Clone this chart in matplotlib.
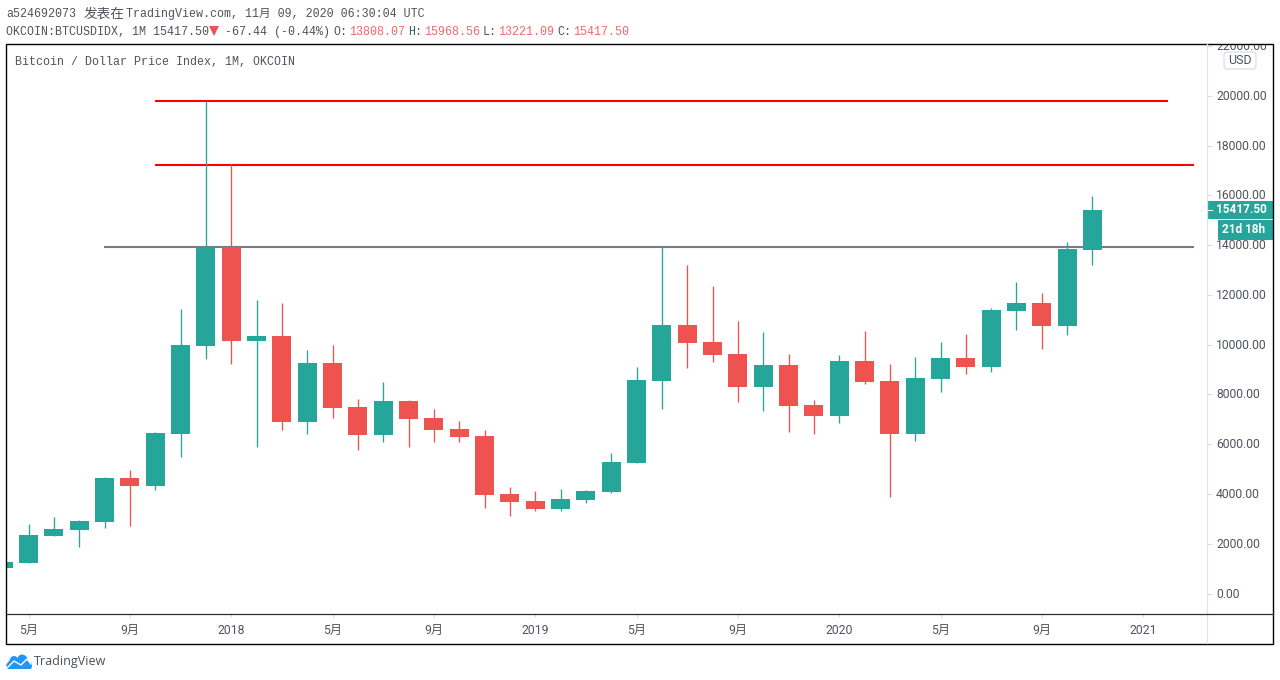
import matplotlib
matplotlib.use("Agg")
import matplotlib.pyplot as plt
from matplotlib.patches import Rectangle, FancyBboxPatch, Circle, Polygon
from matplotlib.transforms import blended_transform_factory, ScaledTranslation

# === DATA (monthly OHLC) ===
opens = [1025, 1226, 2312, 2553, 2874, 4643, 4322, 6412, 9950, 13929, 10151,
         10352, 6894, 9266, 7497, 6372, 7739, 7055, 6613, 6332, 4000, 3719,
         3397, 3759, 4080, 5246, 8543, 10794, 10110, 9628, 8301, 9186, 7578,
         7136, 9347, 8543, 6412, 8623, 9467, 9105, 11357, 11678, 10754, 13808.07]
highs = [1266, 2794, 3075, 2955, 4683, 4965, 6492, 11437, 19799, 17266, 11799,
         11678, 9789, 9990, 7819, 8502, 7779, 7417, 6935, 6573, 4281, 4121,
         4201, 4161, 5648, 9105, 13929, 13206, 12362, 10955, 10512, 9628, 7779,
         9588, 10553, 9226, 9507, 10110, 10432, 11477, 12522, 12080, 14130, 15968.56]
lows = [1025, 1226, 2312, 1881, 2633, 2714, 4161, 5487, 9427, 9226, 5889,
        6573, 6412, 7055, 5769, 6090, 5889, 6090, 6090, 3437, 3116, 3317,
        3317, 3638, 4040, 5246, 7417, 9065, 9306, 7698, 7337, 6492, 6412,
        6854, 8422, 3879, 6131, 8100, 8824, 8904, 10593, 9829, 10392, 13221.09]
closes = [1266, 2352, 2593, 2915, 4643, 4322, 6452, 9990, 13929, 10151, 10352,
          6894, 9266, 7457, 6372, 7739, 7015, 6573, 6291, 3960, 3678, 3397,
          3799, 4121, 5286, 8583, 10794, 10070, 9588, 8301, 9186, 7538, 7136,
          9347, 8502, 6412, 8663, 9467, 9105, 11397, 11678, 10754, 13849, 15417.50]

tick_idx = [1, 5, 9, 13, 17, 21, 25, 29, 33, 37, 41, 45]
tick_labels = ["5月", "9月", "2018", "5月", "9月", "2019",
               "5月", "9月", "2020", "5月", "9月", "2021"]
price_ticks = list(range(0, 22001, 2000))

# horizontal levels: price, first bar, last bar
red_levels = [(19780, 6, 46), (17225, 6, 47)]
gray_level = (13930, 4, 47)

last_price = 15417.50
GREEN = "#26a69a"
RED = "#ef5350"
TXT = "#50535e"
MONO = ["Liberation Mono", "Noto Sans CJK SC"]
CJK = ["Roboto", "Noto Sans CJK SC"]
W, H = 1280, 680

fig = plt.figure(figsize=(12.8, 6.8), dpi=100, facecolor="white")

# === CHART AREA ===
ax = fig.add_axes([7 / W, 1 - 614 / H, 1200 / W, 570 / H])
for s in ax.spines.values():
    s.set_visible(False)
ax.set_xlim(0.15, 47.52)
ax.set_ylim(-824, 22090)

for i in range(len(opens)):
    col = GREEN if closes[i] >= opens[i] else RED
    ax.vlines(i, lows[i], highs[i], color=col, lw=0.95, zorder=4)
    ax.bar(i, abs(closes[i] - opens[i]), bottom=min(opens[i], closes[i]),
           width=0.75, color=col, linewidth=0, zorder=4)

for price, x0, x1 in red_levels:
    ax.hlines(price, x0, x1, color="#ff0000", lw=1.5, zorder=3)
ax.hlines(gray_level[0], gray_level[1] - 0.03, gray_level[2], color="#787b86", lw=1.5, zorder=3)

ax.yaxis.tick_right()
ax.set_yticks(price_ticks)
ax.set_yticklabels([f"{p:.2f}" for p in price_ticks], family="Roboto", fontsize=8.7, color=TXT)
ax.tick_params(axis="y", length=3.6, width=0.7, color="#d6d8e0", pad=3)
up_1px = ScaledTranslation(0, 1 / 100, fig.dpi_scale_trans)
for lab in ax.get_yticklabels():
    lab.set_transform(lab.get_transform() + up_1px)
ax.set_xticks(tick_idx)
ax.set_xticklabels(tick_labels, family=CJK, fontsize=8.8, color=TXT)
ax.tick_params(axis="x", length=2.5, width=0.7, color="#d6d8e0", pad=4.8)

# price tags on the scale
trans = blended_transform_factory(ax.transAxes, ax.transData)
ax.add_patch(Rectangle((1.0, last_price - 380), 66 / 1200, 760, transform=trans,
                       color=GREEN, lw=0, clip_on=False, zorder=6))
ax.add_patch(Rectangle((1.0092, last_price - 1190), 55 / 1200, 790, transform=trans,
                       color=GREEN, lw=0, clip_on=False, zorder=6))
ax.text(1.0075, last_price, "15417.50", transform=trans, family="Roboto", fontsize=8.5,
        fontweight="bold", color="white", va="center", ha="left", zorder=7, clip_on=False)
ax.text(1.0125, last_price - 790, "21d 18h", transform=trans, family="Roboto", fontsize=8.5,
        fontweight="bold", color="white", va="center", ha="left", zorder=7, clip_on=False)
ax.plot([1.0, 1.004], [last_price, last_price], transform=trans, color="white",
        lw=0.7, clip_on=False, zorder=7)

# === OVERLAY IN PIXELS: frame, header, logo ===
ov = fig.add_axes([0, 0, 1, 1], zorder=10)
ov.set_xlim(0, W)
ov.set_ylim(H, 0)
ov.axis("off")
ov.patch.set_alpha(0)

ov.add_patch(Rectangle((0, 0), W, 43.5, color="white", lw=0))
ov.add_patch(Rectangle((6.2, 43.5), 1266.8, 600, fill=False, ec="black", lw=1.0))
ov.plot([7, 1273], [614, 614], color="#2a2e39", lw=0.9)
ov.plot([1207, 1207], [44, 643], color="#e0e3eb", lw=0.9, zorder=1)

ov.add_patch(FancyBboxPatch((1226, 54), 28, 13, boxstyle="round,pad=2,rounding_size=3",
                            fc="white", ec="#d6d8e0", lw=0.8))
ov.text(1240, 60, "USD", family="Roboto", fontsize=9, color=TXT, ha="center", va="center")


def head(x, y, s, color=TXT, size=8.42):
    ov.text(x, y, s, family=MONO, fontsize=size, color=color, ha="left", va="center")


head(6, 14, "a524692073")
ov.text(84, 14, "发表在", family=CJK, fontsize=9.8, color=TXT, ha="left", va="center")
head(126, 14, "TradingView.com, 11月 09, 2020 06:30:04 UTC")
head(6, 32, "OKCOIN:BTCUSDIDX, 1M 15417.50", size=8.33)
ov.add_patch(Polygon([(209, 26), (219, 26), (214, 36)], color=RED, lw=0))
head(225, 32, "-67.44 (-0.44%)")
for lx, vx, lab, val in [(333, 349, "O:", "13808.07"), (408, 424, "H:", "15968.56"),
                         (483, 498, "L:", "13221.09"), (557, 573, "C:", "15417.50")]:
    head(lx, 32, lab)
    head(vx, 32, val, color="#f0686a")
head(15, 62, "Bitcoin / Dollar Price Index, 1M, OKCOIN")

# TradingView logo
BLUE = "#2196f3"
ov.add_patch(Polygon([(6, 665), (12, 657), (16, 657), (20, 661), (22, 655), (26, 656),
                      (30, 663), (32, 666), (31, 669), (8, 669)], color=BLUE, lw=0))
ov.add_patch(Circle((14, 660), 4, color=BLUE, lw=0))
ov.add_patch(Circle((22, 659), 4.5, color=BLUE, lw=0))
ov.add_patch(Circle((28, 665), 4, color=BLUE, lw=0))
ov.plot([8, 14, 21, 27, 31], [667, 661, 665, 659, 664], color="white", lw=1.0)
ov.text(34, 661, "TradingView", family="Open Sans", fontsize=9.0, color="#4a4f5a",
        ha="left", va="center")

fig.savefig("out.png", dpi=100)
